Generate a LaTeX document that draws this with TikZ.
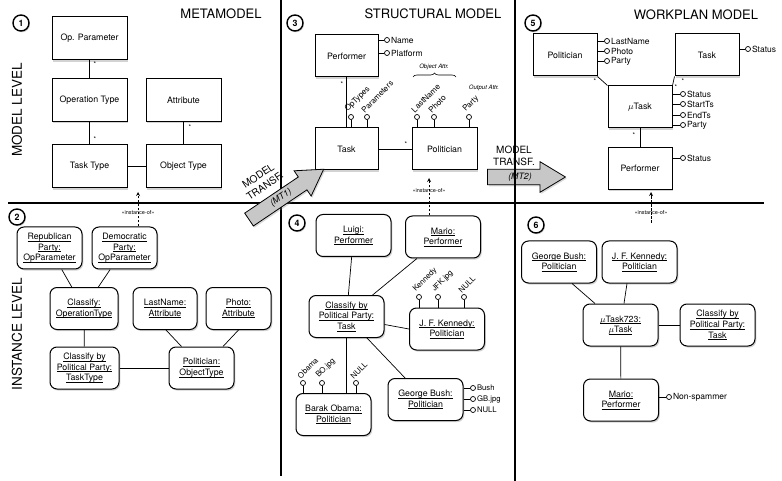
\documentclass[tikz,border=0pt]{standalone}
\usepackage{fontspec}
\setmainfont{TeX Gyre Heros}
\usetikzlibrary{arrows,positioning,calc,shadows,shapes.arrows,decorations.pathreplacing}

\newcommand{\fnbox}{\fontsize{8.8}{10.6}\selectfont}
\newcommand{\fnpin}{\fontsize{8.5}{10}\selectfont}
\newcommand{\fnpinsm}{\fontsize{7.7}{9}\selectfont}
\newcommand{\fntitle}{\fontsize{13}{15}\selectfont}
\newcommand{\fnlevel}{\fontsize{13.5}{16}\selectfont}
\newcommand{\fnmt}{\fontsize{10}{12}\selectfont}
\newcommand{\fnnote}{\fontsize{5.5}{6.5}\selectfont}
% underline with a fixed depth, one line at a time
\newcommand{\uln}[1]{\leavevmode\setbox0=\hbox{#1}\rlap{\rule[-1.7pt]{\wd0}{0.6pt}}\box0}

\begin{document}
\begin{tikzpicture}[x=1pt, y=-1pt, >=stealth,
    mbox/.style={draw, line width=1pt, fill=white, minimum width=75pt, minimum height=43pt,
        inner sep=1pt, font=\fnbox, drop shadow={shadow xshift=1.3pt, shadow yshift=-1.6pt, opacity=0.35}},
    ibox/.style={mbox, rounded corners=7pt, align=center, minimum height=42pt},
    numcirc/.style={circle, draw, line width=1.4pt, fill=white, minimum size=16pt, inner sep=0pt,
        font=\bfseries\fnbox, drop shadow={shadow xshift=1pt, shadow yshift=-1.3pt, opacity=0.35}},
    attrdot/.style={circle, draw, fill=white, line width=0.7pt, minimum size=5pt, inner sep=0pt},
    attrlbl/.style={font=\fnpin, inner sep=1pt, anchor=west},
    slantlbl/.style={font=\fnpinsm, rotate=45, anchor=south west, inner sep=0.5pt},
    link/.style={line width=0.7pt},
    mult/.style={font=\fontsize{6.5}{7}\selectfont, inner sep=0pt},
    instof/.style={->, line width=0.8pt, dash pattern=on 2.5pt off 1.5pt},
    stereo/.style={font=\fnnote, inner sep=0pt},
    divider/.style={line width=2.2pt},
    transf/.style={single arrow, draw, line width=0.8pt, fill=black!22, single arrow head extend=7.5pt,
        single arrow tip angle=62, inner xsep=4pt, inner ysep=3.2pt, font=\itshape\fnbox,
        drop shadow={shadow xshift=1.3pt, shadow yshift=-1.6pt, opacity=0.3}}]
    \useasboundingbox (0,0) rectangle (782,481);

    % Level captions
    \node[font=\fnlevel, rotate=90] (lvmodel) at (17,110) {MODEL LEVEL};
    \node[font=\fnlevel, rotate=90] (lvinst) at (17,334) {INSTANCE LEVEL};

    % (1) Metamodel
    \node[numcirc] (n1) at (21,23) {1};
    \node[font=\fntitle] (t1) at (221,14) {METAMODEL};
    \node[mbox] (opparam) at (89.5,38.5) {Op. Parameter};
    \node[mbox] (optype) at (89.5,100) {Operation Type};
    \node[mbox] (tasktype) at (89.5,166.5) {Task Type};
    \node[mbox] (attrib) at (183.5,100) {Attribute};
    \node[mbox] (objtype) at (183.5,166.5) {Object Type};
    \draw[link] (opparam) -- (optype);
    \draw[link] (optype) -- (tasktype);
    \draw[link] (attrib) -- (objtype);
    \draw[link] (tasktype) -- (objtype);
    \node[mult] (m11) at (95,64) {*};
    \node[mult] (m12) at (95,139) {*};
    \node[mult] (m13) at (190,127) {*};

    % (2) Metamodel instances
    \node[numcirc] (n2) at (17,217) {2};
    \node[ibox, minimum width=65pt] (repub) at (49.5,248) {\uln{Republican}\\\uln{Party:}\\\uln{OpParameter}};
    \node[ibox, minimum width=65pt] (democ) at (124.5,248) {\uln{Democratic}\\\uln{Party:}\\\uln{OpParameter}};
    \node[ibox, minimum width=68pt] (classop) at (84,308.5) {\uln{Classify:}\\\uln{OperationType}};
    \node[ibox, minimum width=64pt] (lnattr) at (165,308.5) {\uln{LastName:}\\\uln{Attribute}};
    \node[ibox, minimum width=65pt] (phattr) at (238.5,308.5) {\uln{Photo:}\\\uln{Attribute}};
    \node[ibox, minimum width=69pt] (classtt) at (84.5,368) {\uln{Classify by}\\\uln{Political Party:}\\\uln{TaskType}};
    \node[ibox, minimum width=65pt] (polot) at (201.5,368) {\uln{Politician:}\\\uln{ObjectType}};
    \draw[link] (repub) -- (classop);
    \draw[link] (democ) -- (classop);
    \draw[link] (classop) -- (classtt);
    \draw[link] (classtt) -- (polot);
    \draw[link] ([xshift=1pt]lnattr.south) -- ([xshift=-20pt]polot.north);
    \draw[link] (phattr.south) -- ([xshift=21.5pt]polot.north);
    \coordinate (io1) at (138,192);
    \draw[instof] (democ.north -| io1) -- (io1);
    \node[stereo] (io1lbl) at (138,213) {«instance-of»};

    % (3) Structural model
    \node[numcirc] (n3) at (295,23) {3};
    \node[font=\fntitle] (t3) at (433,14) {STRUCTURAL MODEL};
    \node[mbox, minimum width=63pt, minimum height=42pt] (perf) at (346.5,56) {Performer};
    \node[mbox, minimum width=63pt, minimum height=42pt] (task) at (346.5,149) {Task};
    \node[mbox, minimum width=65pt, minimum height=42pt] (pol) at (444.5,149) {Politician};
    \draw[link] (perf) -- (task);
    \draw[link] (task) -- (pol);
    \node[mult] (m31) at (342,84) {*};
    \node[mult] (m32) at (406,144) {*};
    \foreach \lab/\yy [count=\i] in {Name/40, Platform/53} {
        \node[attrdot] (perf-p\i) at (387,\yy) {};
        \draw[link] (perf-p\i) -- (perf-p\i -| perf.east);
        \node[attrlbl] (perf-l\i) at (perf-p\i.east) {\lab};
    }
    \foreach \lab/\xx [count=\i] in {OpTypes/351, Parameters/367} {
        \node[attrdot] (task-p\i) at (\xx,117) {};
        \draw[link] (task-p\i) -- (task-p\i |- task.north);
        \node[slantlbl, font=\fontsize{8}{9}\selectfont] (task-l\i) at ([xshift=-2pt]task-p\i.north) {\lab};
    }
    \foreach \lab/\xx [count=\i] in {LastName/417, Photo/434, Party/469} {
        \node[attrdot] (pol-p\i) at (\xx,117) {};
        \draw[link] (pol-p\i) -- (pol-p\i |- pol.north);
        \node[slantlbl, font=\fontsize{8}{9}\selectfont] (pol-l\i) at ([xshift=-2pt]pol-p\i.north) {\lab};
    }
    \coordinate (br1) at (413,77);
    \coordinate (br2) at (456,77);
    \draw[line width=0.6pt, decorate, decoration={brace, amplitude=4pt}] (br1) -- (br2);
    \node[font=\itshape\fontsize{6}{7}\selectfont] (objattr) at (434,67) {Object Attr.};
    \node[font=\itshape\fontsize{6}{7}\selectfont] (outattr) at (484,88) {Output Attr.};

    % (4) Structural model instances
    \node[numcirc] (n4) at (297,223) {4};
    \node[ibox] (luigi) at (353.5,235.5) {\uln{Luigi:}\\\uln{Performer}};
    \node[ibox] (mario) at (443,237) {\uln{Mario:}\\\uln{Performer}};
    \node[ibox] (ctask) at (346.5,316.5) {\uln{Classify by}\\\uln{Political Party:}\\\uln{Task}};
    \node[ibox] (jfk) at (447,329) {\uln{J. F. Kennedy:}\\\uln{Politician}};
    \node[ibox] (obama) at (333.5,414.5) {\uln{Barak Obama:}\\\uln{Politician}};
    \node[ibox] (bush) at (425.5,399.5) {\uln{George Bush:}\\\uln{Politician}};
    \draw[link] (luigi) -- (ctask);
    \draw[link] (mario) -- (ctask);
    \draw[link] ([yshift=-8pt]ctask.east) -- (jfk.west);
    \draw[link] (ctask.south) -- (ctask.south |- obama.north);
    \draw[link] (ctask) -- (bush);
    \foreach \lab/\xx [count=\i] in {Kennedy/419, JFK.jpg/438, NULL/464} {
        \node[attrdot] (jfk-p\i) at (\xx,297) {};
        \draw[link] (jfk-p\i) -- (jfk-p\i |- jfk.north);
        \node[slantlbl] (jfk-l\i) at ([xshift=-2pt]jfk-p\i.north) {\lab};
    }
    \foreach \lab/\xx [count=\i] in {Obama/303, BO.jpg/322, NULL/356} {
        \node[attrdot] (obama-p\i) at (\xx,383) {};
        \draw[link] (obama-p\i) -- (obama-p\i |- obama.north);
        \node[slantlbl] (obama-l\i) at ([xshift=-2pt]obama-p\i.north) {\lab};
    }
    \foreach \lab/\yy [count=\i] in {Bush/388, GB.jpg/399, NULL/410} {
        \node[attrdot] (bush-p\i) at (473,\yy) {};
        \draw[link] (bush-p\i) -- (bush-p\i -| bush.east);
        \node[attrlbl, font=\fnpinsm] (bush-l\i) at (bush-p\i.east) {\lab};
    }
    \coordinate (io2) at (429,178);
    \draw[instof] (mario.north -| io2) -- (io2);
    \node[stereo] (io2lbl) at (429,191) {«instance-of»};

    % (5) Workplan model
    \node[numcirc] (n5) at (533,23) {5};
    \node[font=\fntitle] (t5) at (696,15) {WORKPLAN MODEL};
    \node[mbox, minimum width=64pt, minimum height=42pt] (wpol) at (565,55) {Politician};
    \node[mbox, minimum width=64pt, minimum height=42pt] (wtask) at (707,55) {Task};
    \node[mbox, minimum width=64pt, minimum height=42pt] (utask) at (640,107) {$\mu$Task};
    \node[mbox, minimum width=64pt, minimum height=42pt] (wperf) at (640,168.5) {Performer};
    \draw[link] (wpol.south east) -- (utask.north west);
    \draw[link] (wtask.south west) -- (utask.north east);
    \draw[link] (utask) -- (wperf);
    \node[mult] (m51) at (595,81) {*};
    \node[mult] (m52) at (683,81) {*};
    \node[mult] (m53) at (676,87) {*};
    \node[mult] (m54) at (634,135) {*};
    \foreach \lab/\yy [count=\i] in {LastName/41, Photo/51, Party/61} {
        \node[attrdot] (wpol-p\i) at (607,\yy) {};
        \draw[link] (wpol-p\i) -- (wpol-p\i -| wpol.east);
        \node[attrlbl] (wpol-l\i) at (wpol-p\i.east) {\lab};
    }
    \node[attrdot] (wtask-p1) at (748,49) {};
    \draw[link] (wtask-p1) -- (wtask-p1 -| wtask.east);
    \node[attrlbl] (wtask-l1) at (wtask-p1.east) {Status};
    \foreach \lab/\yy [count=\i] in {Status/94, StartTs/104, EndTs/115, Party/125} {
        \node[attrdot] (utask-p\i) at (683,\yy) {};
        \draw[link] (utask-p\i) -- (utask-p\i -| utask.east);
        \node[attrlbl] (utask-l\i) at (utask-p\i.east) {\lab};
    }
    \node[attrdot] (wperf-p1) at (683,158) {};
    \draw[link] (wperf-p1) -- (wperf-p1 -| wperf.east);
    \node[attrlbl] (wperf-l1) at (wperf-p1.east) {Status};

    % (6) Workplan instances
    \node[numcirc] (n6) at (536,225) {6};
    \node[ibox] (gbush) at (559,262) {\uln{George Bush:}\\\uln{Politician}};
    \node[ibox] (gjfk) at (639.5,262) {\uln{J. F. Kennedy:}\\\uln{Politician}};
    \node[ibox] (ut723) at (620.5,325) {\uln{$\mu$Task723:}\\\uln{$\mu$Task}};
    \node[ibox] (gclass) at (717.5,325) {\uln{Classify by}\\\uln{Political Party:}\\\uln{Task}};
    \node[ibox] (gmario) at (621,400) {\uln{Mario:}\\\uln{Performer}};
    \draw[link] ([xshift=13pt]gbush.south) -- ([xshift=-25.5pt]ut723.north);
    \draw[link] ([xshift=-12.5pt]gjfk.south) -- ([xshift=3.5pt]ut723.north);
    \draw[link] (ut723) -- (gclass);
    \draw[link] (ut723) -- (gmario);
    \node[attrdot] (gmario-p1) at (669,397) {};
    \draw[link] (gmario-p1) -- (gmario-p1 -| gmario.east);
    \node[attrlbl] (gmario-l1) at (gmario-p1.east) {Non-spammer};
    \coordinate (io3b) at (651,223);
    \coordinate (io3) at (651,192);
    \draw[instof] (io3b) -- (io3);
    \node[stereo] (io3lbl) at (651,213) {«instance-of»};

    % Transformation MT2 sits below the divider lines
    \node[transf, minimum height=78pt] (mt2) at (520,177) {(MT2)};
    \node[font=\fnmt, align=center] (mt2lbl) at (514,156) {MODEL\\TRANSF.};

    % Divider lines
    \draw[divider] (281,0) -- (281,476);
    \draw[divider] (515,0) -- (515,481);
    \draw[divider] (8,203) -- (764,203);

    % Transformation MT1 on top
    \node[font=\fnmt, align=center, rotate=34] (mt1lbl) at (261.5,181) {MODEL\\TRANSF.};
    \node[transf, minimum height=90pt, rotate=34] (mt1) at (281,198) {(MT1)};
\end{tikzpicture}
\end{document}
